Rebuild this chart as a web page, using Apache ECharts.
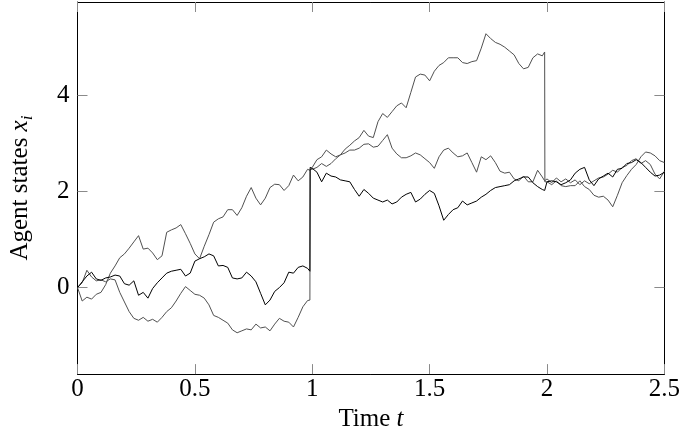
<!DOCTYPE html>
<html>
<head>
<meta charset="utf-8">
<script src="https://cdn.jsdelivr.net/npm/echarts@6/dist/echarts.min.js"></script>
<style>
html,body{margin:0;padding:0;background:#fff;}
#c{width:683px;height:437px;}
</style>
</head>
<body>
<div id="c"></div>
<script>
// time grid (jumps near t = 0.99 and t = 1.99)
var times = [0,0.02,0.04,0.06,0.08,0.1,0.12,0.14,0.16,0.18,
0.2,0.22,0.24,0.26,0.28,0.3,0.32,0.34,0.36,0.38,
0.4,0.42,0.44,0.46,0.48,0.5,0.52,0.54,0.56,0.58,
0.6,0.62,0.64,0.66,0.68,0.7,0.72,0.74,0.76,0.78,
0.8,0.82,0.84,0.86,0.88,0.9,0.92,0.94,0.96,0.98,
0.99,0.991,
1,1.02,1.04,1.06,1.08,1.1,1.12,1.14,1.16,1.18,
1.2,1.22,1.24,1.26,1.28,1.3,1.32,1.34,1.36,1.38,
1.4,1.42,1.44,1.46,1.48,1.5,1.52,1.54,1.56,1.58,
1.6,1.62,1.64,1.66,1.68,1.7,1.72,1.74,1.76,1.78,
1.8,1.82,1.84,1.86,1.88,1.9,1.92,1.94,1.96,1.98,
1.99,1.991,
2,2.02,2.04,2.06,2.08,2.1,2.12,2.14,2.16,2.18,
2.2,2.22,2.24,2.26,2.28,2.3,2.32,2.34,2.36,2.38,
2.4,2.42,2.44,2.46,2.48,2.5];

var agent1 = [0.00,-0.28,-0.20,-0.24,-0.14,-0.10,0.06,0.30,0.45,0.62,
0.70,0.82,0.95,1.08,0.80,0.82,0.72,0.58,0.66,1.15,
1.20,1.24,1.31,1.12,0.92,0.70,0.60,0.86,1.10,1.36,
1.43,1.47,1.62,1.62,1.50,1.66,1.90,2.08,1.86,1.72,
1.86,2.08,2.15,2.14,2.02,2.12,2.34,2.22,2.30,2.46,
2.44,2.44,
2.50,2.66,2.72,2.86,2.78,2.72,2.76,2.88,2.96,3.05,
3.12,3.27,3.15,3.12,3.45,3.62,3.54,3.66,3.78,3.84,
3.74,4.06,4.38,4.44,4.42,4.30,4.50,4.62,4.68,4.78,
4.78,4.78,4.68,4.66,4.70,4.72,4.98,5.28,5.18,5.10,
5.06,5.00,4.92,4.84,4.66,4.55,4.58,4.78,4.86,4.82,
4.90,2.20,
2.20,2.14,2.22,2.12,2.10,2.12,2.12,2.22,2.10,2.04,
1.92,1.88,1.90,1.82,1.68,1.92,2.18,2.33,2.46,2.56,
2.72,2.82,2.80,2.74,2.64,2.60];

var agent2 = [0.00,0.10,0.36,0.22,0.14,0.16,0.12,0.18,0.16,-0.10,
-0.30,-0.50,-0.64,-0.68,-0.62,-0.70,-0.66,-0.72,-0.62,-0.50,
-0.42,-0.28,-0.12,0.02,-0.06,-0.14,-0.16,-0.22,-0.36,-0.58,
-0.62,-0.68,-0.74,-0.88,-0.94,-0.90,-0.86,-0.88,-0.76,-0.84,
-0.82,-0.90,-0.76,-0.64,-0.70,-0.72,-0.82,-0.62,-0.40,-0.27,
-0.26,2.46,
2.46,2.50,2.58,2.52,2.58,2.68,2.76,2.80,2.86,2.86,
2.90,2.98,2.99,2.92,2.94,3.06,3.18,2.90,2.78,2.70,
2.70,2.74,2.80,2.76,2.68,2.60,2.48,2.72,2.86,2.90,
2.80,2.72,2.74,2.80,2.60,2.40,2.72,2.66,2.74,2.60,
2.42,2.38,2.40,2.26,2.22,2.32,2.20,2.20,2.44,2.30,
2.22,2.22,
2.26,2.18,2.28,2.20,2.26,2.18,2.24,2.14,2.22,2.16,
2.22,2.28,2.30,2.36,2.44,2.40,2.50,2.54,2.64,2.68,
2.58,2.64,2.56,2.36,2.26,2.42];

var agent3 = [0.00,0.12,0.24,0.32,0.18,0.15,0.20,0.22,0.26,0.24,
0.08,0.05,0.14,-0.16,-0.10,-0.22,-0.02,0.10,0.20,0.30,
0.34,0.36,0.38,0.24,0.30,0.55,0.60,0.64,0.70,0.66,
0.45,0.46,0.42,0.20,0.18,0.20,0.32,0.24,0.12,-0.12,
-0.36,-0.26,-0.08,0.00,0.10,0.32,0.30,0.42,0.45,0.40,
0.34,2.50,
2.48,2.40,2.20,2.38,2.32,2.30,2.24,2.22,2.20,2.04,
1.90,2.04,1.96,1.86,1.82,1.78,1.82,1.74,1.78,1.88,
1.94,1.98,1.78,1.84,1.94,2.02,1.96,1.70,1.40,1.52,
1.62,1.66,1.80,1.72,1.76,1.80,1.88,1.94,2.02,2.08,
2.10,2.12,2.14,2.22,2.26,2.30,2.30,2.18,2.10,2.04,
2.02,2.02,
2.20,2.22,2.20,2.14,2.18,2.24,2.38,2.46,2.50,2.24,
2.12,2.26,2.32,2.38,2.30,2.46,2.48,2.58,2.60,2.66,
2.60,2.50,2.40,2.32,2.34,2.40];

var xTicks = [0, 0.5, 1, 1.5, 2, 2.5];
var yTicks = [0, 2, 4];

function pairs(vals) {
  return times.map(function (t, i) { return [t, vals[i]]; });
}

var FONT = '"Liberation Serif", "Times New Roman", serif';
var FS = 25;
var tickColor = '#8a8a8a';

var chart = echarts.init(document.getElementById('c'), null, {renderer: 'canvas'});
var axisBase = {
  axisLine: {show: true, onZero: false, lineStyle: {color: '#000', width: 1}},
  splitLine: {show: false}
};
chart.setOption({
  animation: false,
  backgroundColor: '#fff',
  grid: {left: 76.5, right: 15.5, top: 2, bottom: 61, containLabel: false},
  xAxis: [
    Object.assign({}, axisBase, {
      type: 'value', min: 0, max: 2.5, interval: 0.5, position: 'bottom',
      axisTick: {show: true, inside: true, length: 10, lineStyle: {color: tickColor, width: 1}, customValues: xTicks},
      axisLabel: {show: true, margin: 3, color: '#000', fontFamily: FONT, fontSize: FS, customValues: xTicks,
        formatter: function (v) { return String(v); }},
      name: '{a|Time }{t|t}', nameLocation: 'middle', nameGap: 30,
      nameTextStyle: {color: '#000', fontFamily: FONT, fontSize: FS,
        rich: {a: {fontFamily: FONT, fontSize: FS, color: '#000'},
               t: {fontFamily: FONT, fontSize: FS, fontStyle: 'italic', color: '#000'}}}
    }),
    Object.assign({}, axisBase, {
      type: 'value', min: 0, max: 2.5, interval: 0.5, position: 'top',
      axisTick: {show: true, inside: true, length: 10, lineStyle: {color: tickColor, width: 1}, customValues: xTicks},
      axisLabel: {show: false}
    })
  ],
  yAxis: [
    Object.assign({}, axisBase, {
      type: 'value', min: -1.8, max: 5.94, position: 'left',
      axisTick: {show: true, inside: true, length: 10, lineStyle: {color: tickColor, width: 1}, customValues: yTicks},
      axisLabel: {show: true, margin: 8, color: '#000', fontFamily: FONT, fontSize: FS, customValues: yTicks},
      name: '{a|Agent states }{x|x}{s|i}', nameLocation: 'middle', nameRotate: 90, nameGap: 41,
      nameTextStyle: {color: '#000', fontFamily: FONT, fontSize: FS,
        rich: {a: {fontFamily: FONT, fontSize: FS, color: '#000', lineHeight: 32},
               x: {fontFamily: FONT, fontSize: FS, fontStyle: 'italic', color: '#000', lineHeight: 32},
               s: {fontFamily: FONT, fontSize: 17, fontStyle: 'italic', color: '#000', verticalAlign: 'bottom', lineHeight: 17}}}
    }),
    Object.assign({}, axisBase, {
      type: 'value', min: -1.8, max: 5.94, position: 'right',
      axisTick: {show: true, inside: true, length: 10, lineStyle: {color: tickColor, width: 1}, customValues: yTicks},
      axisLabel: {show: false}
    })
  ],
  series: [
    {type: 'line', data: pairs(agent1), showSymbol: false, symbol: 'none', lineStyle: {color: '#505050', width: 1}, z: 2},
    {type: 'line', data: pairs(agent2), showSymbol: false, symbol: 'none', lineStyle: {color: '#505050', width: 1}, z: 2},
    {type: 'line', data: pairs(agent3), showSymbol: false, symbol: 'none', lineStyle: {color: '#000', width: 1}, z: 3}
  ]
});
</script>
</body>
</html>
